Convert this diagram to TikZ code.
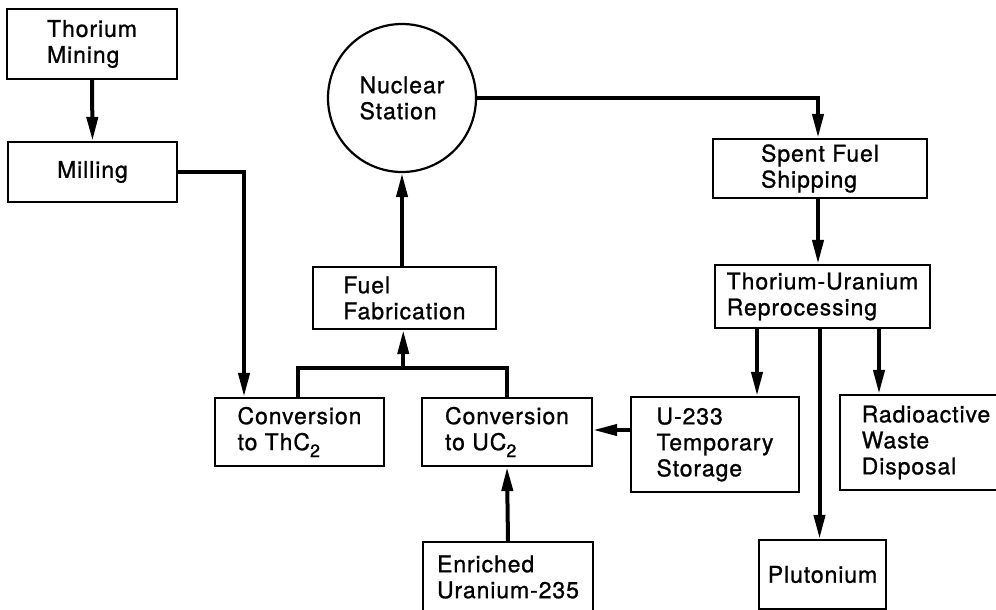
\documentclass[tikz,border=0pt]{standalone}
\usepackage{fontspec}
\setmainfont{TeX Gyre Heros}[LetterSpace=4,FakeBold=1]
\usetikzlibrary{arrows.meta,calc}
\newcommand{\subtwo}{\raisebox{-7pt}{\fontsize{18}{18}\selectfont 2}}
\begin{document}
\begin{tikzpicture}[x=1pt,y=-1pt,
  box/.style={draw,line width=2.2pt,align=left,inner sep=0pt,
    font=\fontsize{23}{26}\selectfont},
  arr/.style={line width=4pt,-{Triangle[length=24pt,width=11pt]}},
  link/.style={line width=4pt}]
\useasboundingbox (0,0) rectangle (996,610);
\node[box,minimum width=170pt,minimum height=70pt] (mining) at (92,44) {Thorium\\Mining};
\node[box,minimum width=169pt,minimum height=60pt] (milling) at (92.5,172) {Milling};
\node[box,circle,minimum size=148pt,align=left] (nuclear) at (402,98) {Nuclear\\Station};
\node[box,minimum width=214pt,minimum height=59pt] (spent) at (820,168.5) {Spent Fuel\\Shipping};
\node[box,minimum width=183pt,minimum height=62pt] (fuelfab) at (404.5,298) {Fuel\\Fabrication};
\node[box,minimum width=215pt,minimum height=63pt] (threp) at (822.5,296.5) {Thorium-Uranium\\Reprocessing};
\node[box,minimum width=169pt,minimum height=68pt] (thc) at (299.5,432) {Conversion\\to ThC\subtwo};
\node[box,minimum width=170pt,minimum height=68pt] (uc) at (507,432) {Conversion\\to UC\subtwo};
\node[box,minimum width=168pt,minimum height=95pt] (u233) at (715,444.5) {U-233\\Temporary\\Storage};
\node[box,minimum width=172pt,minimum height=95pt] (waste) at (926,442.5) {Radioactive\\Waste\\Disposal};
\node[box,minimum width=170pt,minimum height=70pt] (enriched) at (508,577) {Enriched\\Uranium-235};
\node[box,minimum width=127pt,minimum height=69pt] (pu) at (822.5,574.5) {Plutonium};
% connectors
\draw[arr] (mining.south) -- (milling.north);
\draw[arr] (milling.east) -| ([xshift=-55.5pt]thc.north);
\draw[arr] (nuclear.east) -| ([xshift=-2pt]spent.north);
\path ([xshift=-2pt]spent.south) coordinate (s1);
\draw[arr] (s1) -- (s1 |- threp.north);
\path ([xshift=-65.5pt]threp.south) coordinate (r1);
\path ([xshift=56.5pt]threp.south) coordinate (r2);
\path ([xshift=-3pt]threp.south) coordinate (r3);
\draw[arr] (r1) -- (r1 |- u233.north);
\draw[arr] (r2) -- (r2 |- waste.north);
\draw[arr] (r3) -- (r3 |- pu.north);
\path ([yshift=14.5pt]u233.west) coordinate (u1);
\draw[arr] (u1) -- (u1 -| uc.east);
\draw[arr] (enriched.north) -- (uc.south);
\coordinate (jn) at ($(thc.north)!0.5!(uc.north)+(0,-29)$);
\draw[link] ([xshift=-1.5pt]thc.north) -- ++(0,-29) -| (uc.north);
\draw[arr] (jn) -- (jn |- fuelfab.south);
\draw[arr] (fuelfab.north -| nuclear.south) -- (nuclear.south);
\end{tikzpicture}
\end{document}
